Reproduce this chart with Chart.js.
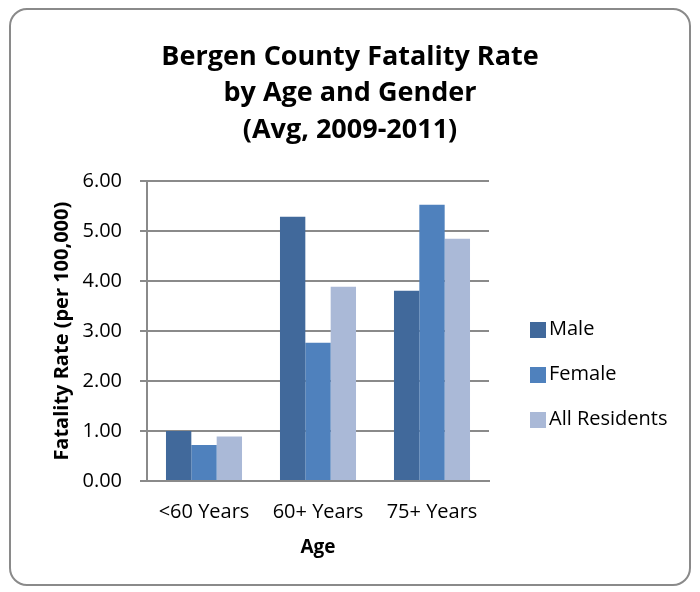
<!DOCTYPE html>
<html>
<head>
<meta charset="utf-8">
<script src="https://cdn.jsdelivr.net/npm/chart.js@4"></script>
<style>
  body { margin: 0; background: #fff; }
  #wrap { position: relative; width: 700px; height: 592px; }
  #frame {
    position: absolute; left: 9px; top: 8px; width: 678px; height: 574px;
    border: 2px solid #8a8a8a; border-radius: 18px; pointer-events: none;
  }
  canvas { position: absolute; left: 0; top: 0; }
</style>
</head>
<body>
<div id="wrap">
  <canvas id="chart" width="700" height="592"></canvas>
  <div id="frame"></div>
</div>
<script>
const ageGroups = ['<60 Years', '60+ Years', '75+ Years'];
const maleRate = [1.00, 5.29, 3.81];
const femaleRate = [0.72, 2.77, 5.53];
const allRate = [0.89, 3.89, 4.85];
const yTicks = [0, 1, 2, 3, 4, 5, 6];

const fontFam = '"Open Sans", Lato, sans-serif';

// legend drawn by hand so it sits where Excel put it
const sideLegend = {
  id: 'sideLegend',
  afterDraw(chart) {
    const ctx = chart.ctx;
    ctx.save();
    ctx.font = '20px ' + fontFam;
    ctx.textBaseline = 'middle';
    chart.data.datasets.forEach((ds, i) => {
      const y = 329 + i * 45;
      ctx.fillStyle = ds.backgroundColor;
      ctx.fillRect(530, y - 7, 16, 16);
      ctx.fillStyle = '#000';
      ctx.fillText(ds.label, 549, y);
    });
    ctx.restore();
  }
};

new Chart(document.getElementById('chart'), {
  type: 'bar',
  data: {
    labels: ageGroups,
    datasets: [
      { label: 'Male', data: maleRate, backgroundColor: '#41699b' },
      { label: 'Female', data: femaleRate, backgroundColor: '#4f81bd' },
      { label: 'All Residents', data: allRate, backgroundColor: '#aab9d7' }
    ]
  },
  options: {
    responsive: false,
    animation: false,
    categoryPercentage: 0.667,
    barPercentage: 1.0,
    layout: { padding: 0 },
    plugins: {
      legend: { display: false },
      tooltip: { enabled: false },
      title: {
        display: true,
        text: ['Bergen County Fatality Rate', 'by Age and Gender', '(Avg, 2009-2011)'],
        color: '#000',
        font: { family: fontFam, size: 27, weight: 'bold', lineHeight: 1.35 },
        padding: { top: 39, bottom: 33 }
      }
    },
    scales: {
      x: {
        afterFit: s => { s.height = 111; },
        grid: { display: false, drawTicks: false },
        border: { color: '#8a8a8a', width: 2 },
        ticks: { color: '#000', font: { family: fontFam, size: 20 }, padding: 19 },
        title: {
          display: true, text: 'Age', color: '#000',
          font: { family: fontFam, size: 19, weight: 'bold' },
          padding: { top: 0, bottom: 33 }
        }
      },
      y: {
        min: 0,
        max: 6,
        afterFit: s => { s.width = 147; },
        afterBuildTicks: axis => { axis.ticks = yTicks.map(v => ({ value: v })); },
        grid: { color: '#8a8a8a', lineWidth: 2, tickLength: 7 },
        border: { color: '#8a8a8a', width: 2 },
        ticks: {
          color: '#000', font: { family: fontFam, size: 20 }, padding: 18,
          callback: v => Number(v).toFixed(2)
        },
        title: {
          display: true, text: 'Fatality Rate (per 100,000)', color: '#000',
          font: { family: fontFam, size: 20, weight: 'bold' },
          padding: { top: 50, bottom: 0 }
        }
      },
      // empty axis that just reserves room on the right for the legend
      side: {
        position: 'right',
        afterFit: s => { s.width = 211; },
        grid: { drawOnChartArea: false, drawTicks: false },
        border: { display: false },
        ticks: { display: false }
      }
    }
  },
  plugins: [sideLegend]
});
</script>
</body>
</html>
